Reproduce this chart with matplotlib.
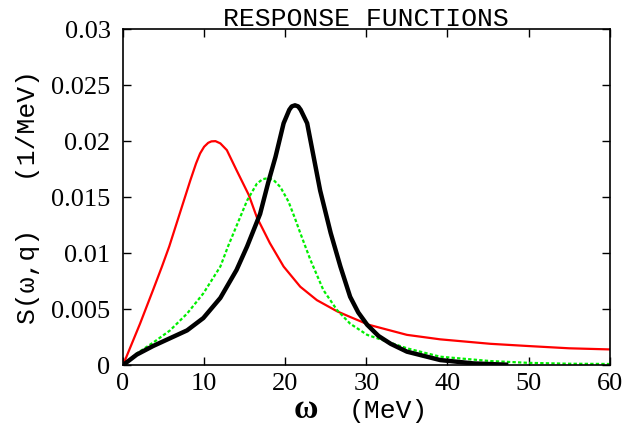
import numpy as np
import matplotlib.pyplot as plt

# red curve (thin solid)
red_x = [0, 2.1, 3.7, 4.8, 5.7, 7.0, 8.3, 9.0, 9.5, 10.0, 10.5, 10.9, 11.4, 12.0,
         12.8, 14.0, 15.5, 16.5, 18.1, 19.8, 21.85, 23.9, 26.4, 28.0, 30.3, 35,
         39.1, 45.3, 50, 55, 60]
red_y = [0, 0.0037, 0.0067, 0.0088, 0.0106, 0.01355, 0.0165, 0.0180, 0.0189, 0.0195,
         0.01985, 0.01998, 0.0200, 0.0198, 0.0192, 0.0174, 0.0152, 0.0132, 0.0109,
         0.0088, 0.0070, 0.0058, 0.0048, 0.0043, 0.0036, 0.0027, 0.0023, 0.0019,
         0.0017, 0.0015, 0.0014]

# black curve (thick solid)
blk_x = [0, 1.7, 3.7, 5.8, 7.9, 9.9, 12, 14, 15.3, 16.9, 17.9, 18.8, 19.8, 20.5,
         20.8, 21.2, 21.6, 21.9, 22.7, 23.5, 24.3, 25.6, 26.8, 28.0, 29.0, 30.1,
         31.5, 33, 35, 39.1, 43.2, 47.5]
blk_y = [0, 0.00094, 0.0017, 0.0024, 0.0031, 0.0042, 0.0060, 0.0085, 0.0106, 0.0135,
         0.0163, 0.0186, 0.0216, 0.0228, 0.0231, 0.0232, 0.0231, 0.0228, 0.0216,
         0.0186, 0.0156, 0.0118, 0.0088, 0.0061, 0.0047, 0.0036, 0.0026, 0.0019,
         0.0012, 0.00045, 0.00015, 0.00003]

# green curve (dotted)
grn_x = [0, 1.7, 3.7, 5.8, 7.9, 9.9, 12, 13, 15.3, 16.5, 17.2, 17.9, 18.6, 19.4,
         20.4, 21.2, 21.85, 23.1, 24.7, 26.4, 28.0, 30.1, 35, 39.1, 45.3, 50, 55, 60]
grn_y = [0, 0.00104, 0.0020, 0.0031, 0.0046, 0.0064, 0.0088, 0.0107, 0.0147, 0.0162,
         0.0166, 0.0167, 0.0165, 0.0159, 0.0146, 0.0131, 0.0118, 0.0094, 0.0067,
         0.0049, 0.0037, 0.0027, 0.0015, 0.00075, 0.00036, 0.0002, 0.00012, 0.0001]

xticks = [0, 10, 20, 30, 40, 50, 60]
yticks = [0, 0.005, 0.01, 0.015, 0.02, 0.025, 0.03]
ytick_labels = ['0', '0.005', '0.01', '0.015', '0.02', '0.025', '0.03']

fig = plt.figure(figsize=(6.26, 4.42), dpi=100)
ax = fig.add_axes([0.1965, 0.174, 0.7775, 0.760])

ax.plot(red_x, red_y, color='#ff0000', lw=1.6)
ax.plot(grn_x, grn_y, color='#00ee00', lw=1.6, linestyle=(0, (1.5, 1)))
ax.plot(blk_x, blk_y, color='black', lw=3.2, solid_capstyle='butt', solid_joinstyle='round')

ax.set_xlim(0, 60)
ax.set_ylim(0, 0.03)
ax.set_xticks(xticks)
ax.set_xticklabels([str(t) for t in xticks], family='Liberation Serif', fontsize=19)
ax.set_yticks(yticks)
ax.set_yticklabels(ytick_labels, family='Liberation Serif', fontsize=19)
ax.tick_params(direction='in', top=True, right=True, length=6, width=1, pad=6)
ax.tick_params(axis='y', pad=9)
for s in ax.spines.values():
    s.set_linewidth(1.2)

ax.set_title('RESPONSE FUNCTIONS', family='Liberation Mono', fontsize=19, pad=2)
ax.set_ylabel('S(\u03c9,q)   (1/MeV)', family='Liberation Mono', fontsize=19, labelpad=8)

fig.text(0.488, 0.055, '\u03c9', family='Liberation Serif', fontweight='bold',
         fontsize=24, ha='center', va='baseline')
fig.text(0.62, 0.055, '(MeV)', family='Liberation Mono', fontsize=19,
         ha='center', va='baseline')

fig.savefig('out.png', dpi=100)
